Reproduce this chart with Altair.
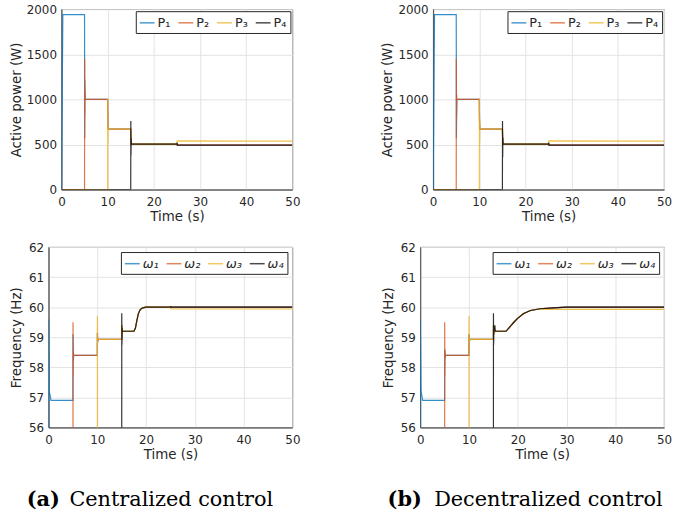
import altair as alt
import pandas as pd

# ---------------- data ----------------
P_LABELS = ["P₁", "P₂", "P₃", "P₄"]
W_LABELS = ["ω₁", "ω₂", "ω₃", "ω₄"]
COLORS = ["#0072BD", "#D95319", "#EDB120", "#000000"]

X_TICKS = [0, 10, 20, 30, 40, 50]
P_TICKS = [0, 500, 1000, 1500, 2000]
W_TICKS = [56, 57, 58, 59, 60, 61, 62]

# (a) centralized - active power
CP1_T = [0, 0.3, 5.0, 5.04, 5.08, 5.15, 10.0, 10.04, 10.1, 15.0, 15.04, 15.1, 25.0, 25.05, 50.0]
CP1_V = [0, 1940, 1940, 570, 1220, 1000, 1000, 760, 670, 670, 580, 505, 505, 495, 495]
CP2_T = [0, 5.0, 5.02, 5.06, 5.1, 5.15, 10.0, 10.04, 10.1, 15.0, 15.04, 15.1, 25.0, 25.05, 50.0]
CP2_V = [0, 0, 1450, 820, 1100, 1000, 1000, 760, 670, 670, 580, 505, 505, 495, 495]
CP3_T = [0, 10.0, 10.02, 10.06, 10.1, 10.15, 15.0, 15.04, 15.1, 25.0, 25.05, 50.0]
CP3_V = [0, 0, 1010, 510, 720, 670, 670, 560, 505, 505, 540, 537]
CP4_T = [0, 15.0, 15.02, 15.06, 15.1, 15.15, 25.0, 25.05, 25.1, 50.0]
CP4_V = [0, 0, 760, 380, 570, 505, 505, 520, 492, 492]

# (b) decentralized - active power
DP1_T = [0, 0.3, 5.0, 5.04, 5.08, 5.15, 10.0, 10.04, 10.1, 15.0, 15.04, 15.1, 25.0, 25.05, 50.0]
DP1_V = [0, 1940, 1940, 570, 800, 1000, 1000, 760, 670, 670, 580, 505, 505, 495, 495]
DP2_T = [0, 5.0, 5.02, 5.06, 5.1, 5.15, 10.0, 10.04, 10.1, 15.0, 15.04, 15.1, 25.0, 25.05, 50.0]
DP2_V = [0, 0, 1450, 800, 1050, 1000, 1000, 760, 670, 670, 580, 505, 505, 495, 495]
DP3_T = [0, 10.0, 10.02, 10.06, 10.1, 10.15, 15.0, 15.04, 15.1, 25.0, 25.05, 50.0]
DP3_V = [0, 0, 1010, 520, 770, 670, 670, 560, 505, 505, 540, 537]
DP4_T = [0, 15.0, 15.02, 15.06, 15.1, 15.15, 25.0, 25.05, 25.1, 50.0]
DP4_V = [0, 0, 760, 360, 580, 505, 505, 520, 492, 492]

# (a) centralized - frequency
CW1_T = [0, 0.01, 0.15, 0.5, 5.0, 5.02, 5.08, 5.15, 10.0, 10.02, 10.08, 10.15, 15.0, 15.02, 15.08, 15.15,
         17.5, 17.8, 18.1, 18.4, 18.8, 19.3, 20.0, 25.0, 50.0]
CW1_V = [0, 59.6, 57.2, 56.9, 56.9, 59.1, 58.2, 58.4, 58.4, 59.15, 58.85, 58.93, 58.93, 59.4, 59.1, 59.2,
         59.2, 59.3, 59.55, 59.78, 59.92, 59.98, 60.0, 60.0, 60.0]
CW2_T = [0, 5.0, 5.01, 5.05, 5.1, 5.15, 10.0, 10.02, 10.08, 10.15, 15.0, 15.02, 15.08, 15.15,
         17.5, 17.8, 18.1, 18.4, 18.8, 19.3, 20.0, 25.0, 50.0]
CW2_V = [0, 0, 59.5, 57.7, 58.55, 58.4, 58.4, 59.15, 58.85, 58.93, 58.93, 59.4, 59.1, 59.2,
         59.2, 59.3, 59.55, 59.78, 59.92, 59.98, 60.0, 60.0, 60.0]
CW3_T = [0, 10.0, 10.01, 10.05, 10.1, 10.15, 15.0, 15.02, 15.08, 15.15,
         17.5, 17.8, 18.1, 18.4, 18.8, 19.3, 20.0, 25.0, 25.05, 50.0]
CW3_V = [0, 0, 59.7, 58.8, 59.0, 58.93, 58.93, 59.4, 59.1, 59.2,
         59.2, 59.3, 59.55, 59.78, 59.92, 59.98, 60.0, 60.0, 59.94, 59.94]
CW4_T = [0, 15.0, 15.01, 15.05, 15.1, 15.15, 17.5, 17.8, 18.1, 18.4, 18.8, 19.3, 20.0, 25.0, 25.05, 25.1, 50.0]
CW4_V = [0, 0, 59.8, 58.75, 59.3, 59.2, 59.2, 59.3, 59.55, 59.78, 59.92, 59.98, 60.0, 60.0, 60.04, 60.0, 60.0]

# (b) decentralized - frequency
DW1_T = [0, 0.01, 0.15, 0.5, 5.0, 5.02, 5.08, 5.15, 10.0, 10.02, 10.08, 10.15, 15.0, 15.02, 15.08, 15.15,
         17.6, 18.5, 19.2, 19.9, 21.2, 22.6, 24.6, 27.3, 30.0, 50.0]
DW1_V = [0, 59.6, 57.2, 56.9, 56.9, 58.6, 58.3, 58.4, 58.4, 59.1, 58.85, 58.93, 58.93, 59.4, 59.1, 59.2,
         59.2, 59.37, 59.5, 59.62, 59.79, 59.89, 59.95, 59.98, 60.0, 60.0]
DW2_T = [0, 5.0, 5.01, 5.05, 5.1, 5.15, 10.0, 10.02, 10.08, 10.15, 15.0, 15.02, 15.08, 15.15,
         17.6, 18.5, 19.2, 19.9, 21.2, 22.6, 24.6, 27.3, 30.0, 50.0]
DW2_V = [0, 0, 59.5, 57.7, 58.55, 58.4, 58.4, 59.1, 58.85, 58.93, 58.93, 59.4, 59.1, 59.2,
         59.2, 59.37, 59.5, 59.62, 59.79, 59.89, 59.95, 59.98, 60.0, 60.0]
DW3_T = [0, 10.0, 10.01, 10.05, 10.1, 10.15, 15.0, 15.02, 15.08, 15.15,
         17.6, 18.5, 19.2, 19.9, 21.2, 22.6, 24.6, 25.0, 25.05, 50.0]
DW3_V = [0, 0, 59.7, 58.8, 59.0, 58.93, 58.93, 59.4, 59.1, 59.2,
         59.2, 59.37, 59.5, 59.62, 59.79, 59.89, 59.95, 59.96, 59.93, 59.93]
DW4_T = [0, 15.0, 15.01, 15.05, 15.1, 15.15, 15.3, 15.4,
         17.6, 18.5, 19.2, 19.9, 21.2, 22.6, 24.6, 27.3, 30.0, 50.0]
DW4_V = [0, 0, 59.8, 58.75, 59.3, 59.2, 59.4, 59.2,
         59.2, 59.37, 59.5, 59.62, 59.79, 59.89, 59.95, 59.98, 60.0, 60.0]

CAP_A = ["(a)", "Centralized control"]
CAP_B = ["(b)", "Decentralized control"]


def table(labels, series):
    rows = []
    for lab, (ts, vs) in zip(labels, series):
        for i, (t, v) in enumerate(zip(ts, vs)):
            rows.append({"s": lab, "t": t, "v": v, "i": i})
    return pd.DataFrame(rows)


def panel(df, labels, ydom, yticks, ytitle, w, h, italic, offset, tpad):
    return alt.Chart(df).mark_line(strokeWidth=1.2, opacity=0.8, clip=True).encode(
        x=alt.X("t:Q", scale=alt.Scale(domain=[0, 50], nice=False),
                axis=alt.Axis(values=X_TICKS, title="Time (s)", format="d")),
        y=alt.Y("v:Q", scale=alt.Scale(domain=ydom, nice=False, zero=False),
                axis=alt.Axis(values=yticks, title=ytitle, format="d", titlePadding=tpad)),
        color=alt.Color("s:N", scale=alt.Scale(domain=labels, range=COLORS),
                        legend=alt.Legend(orient="top-right", direction="horizontal", columns=4,
                                          title=None, symbolType="stroke", symbolSize=225,
                                          symbolStrokeWidth=1.5, symbolOpacity=0.7,
                                          labelFont="DejaVu Sans",
                                          labelFontSize=13, labelColor="#262626",
                                          labelFontStyle="italic" if italic else "normal",
                                          strokeColor="#262626", fillColor="white",
                                          padding=3, offset=offset, labelOffset=2,
                                          columnPadding=4, cornerRadius=0)),
        order="i:Q",
    ).properties(width=w, height=h)


def caption(parts, x_bold, x_text, y):
    bold = alt.Chart(pd.DataFrame({"c": [parts[0]]})).mark_text(
        align="left", baseline="alphabetic", font="DejaVu Serif", fontSize=21,
        fontWeight="bold", color="black").encode(x=alt.value(x_bold), y=alt.value(y), text="c:N")
    reg = alt.Chart(pd.DataFrame({"c": [parts[1]]})).mark_text(
        align="left", baseline="alphabetic", font="DejaVu Serif", fontSize=21,
        color="black").encode(x=alt.value(x_text), y=alt.value(y), text="c:N")
    return bold + reg


def spacer():
    return alt.Chart(pd.DataFrame({"a": [0]})).mark_point(opacity=0).encode(
        x=alt.value(0), y=alt.value(0)
    ).properties(width=1, height=1, view=alt.ViewBackground(strokeOpacity=0, fillOpacity=0))


cp = panel(table(P_LABELS, [(CP1_T, CP1_V), (CP2_T, CP2_V), (CP3_T, CP3_V), (CP4_T, CP4_V)]),
           P_LABELS, [0, 2000], P_TICKS, "Active power (W)", 233, 182, False, 2, 3)
dp = panel(table(P_LABELS, [(DP1_T, DP1_V), (DP2_T, DP2_V), (DP3_T, DP3_V), (DP4_T, DP4_V)]),
           P_LABELS, [0, 2000], P_TICKS, "Active power (W)", 233, 182, False, 2, 3)
cw = panel(table(W_LABELS, [(CW1_T, CW1_V), (CW2_T, CW2_V), (CW3_T, CW3_V), (CW4_T, CW4_V)]),
           W_LABELS, [56, 62], W_TICKS, "Frequency (Hz)", 246, 182, True, 5, 5)
dw = panel(table(W_LABELS, [(DW1_T, DW1_V), (DW2_T, DW2_V), (DW3_T, DW3_V), (DW4_T, DW4_V)]),
           W_LABELS, [56, 62], W_TICKS, "Frequency (Hz)", 246, 182, True, 5, 5)

cw_full = alt.layer(cw, caption(CAP_A, -22, 21, 261))
dw_full = alt.layer(dw, caption(CAP_B, -33, 14, 261))

top_inner = alt.hconcat(cp, dp, spacing=80).resolve_scale(color="independent")
bottom_inner = alt.hconcat(cw_full, dw_full, spacing=80).resolve_scale(color="independent")
top = alt.hconcat(spacer(), top_inner, spacing=0).resolve_scale(color="independent")
bottom = alt.hconcat(spacer(), bottom_inner, spacing=0).resolve_scale(color="independent")

chart = alt.vconcat(top, bottom, spacing=17).resolve_scale(color="independent").properties(
    padding={"left": 3, "top": 0, "right": 0, "bottom": 0}
).configure(font="DejaVu Sans").configure_view(
    stroke="#262626", strokeWidth=0.8
).configure_axis(
    labelFont="DejaVu Sans", labelFontSize=12, labelColor="#262626",
    titleFont="DejaVu Sans", titleFontSize=13.5, titleFontWeight="normal", titleColor="#262626",
    domainColor="#262626", domainWidth=0.8, gridColor="#e3e3e3", gridWidth=1,
    ticks=False, labelPadding=5
).configure_axisX(labelPadding=7, titlePadding=2, labelFlush=False)

chart.save("out.html", embed_options={"renderer": "svg", "actions": False})
